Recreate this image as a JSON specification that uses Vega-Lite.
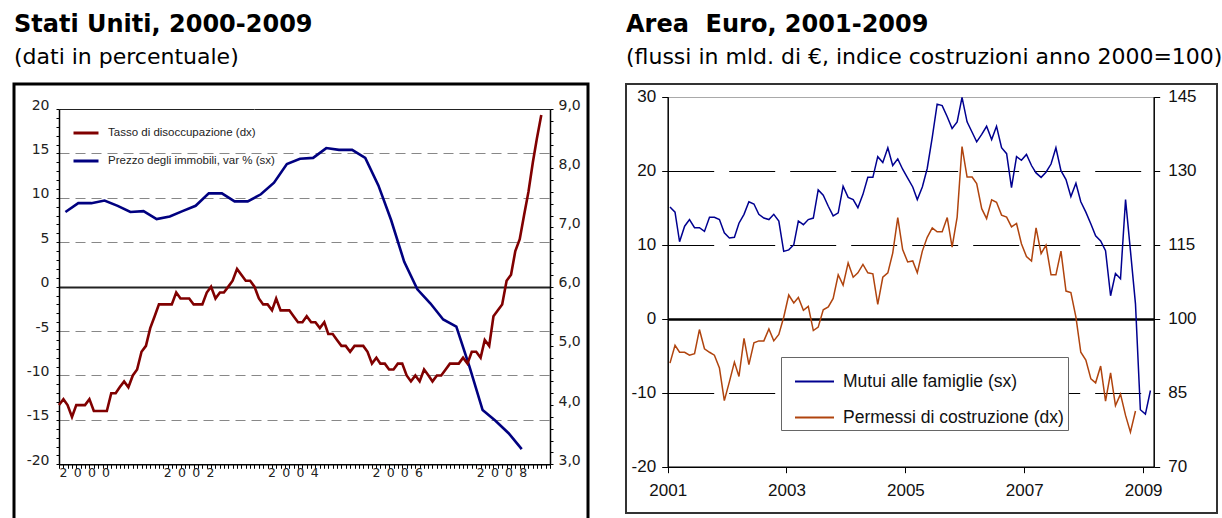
{
  "$schema": "https://vega.github.io/schema/vega-lite/v6.json",
  "padding": {"left": 12, "top": 11, "right": 0, "bottom": 0},
  "background": "white",
  "spacing": 35,
  "resolve": {"scale": {"color": "independent"}},
  "config": {
    "axis": {"title": null, "labelOverlap": false, "labelFlush": false},
    "legend": {"title": null}
  },
  "datasets": {
    "us_p": [
      {"d":"2000-02-15","v":8.4},{"d":"2000-05-15","v":9.4},{"d":"2000-08-15","v":9.4},{"d":"2000-11-15","v":9.7},
      {"d":"2001-02-15","v":9.1},{"d":"2001-05-15","v":8.4},{"d":"2001-08-15","v":8.5},{"d":"2001-11-15","v":7.6},
      {"d":"2002-02-15","v":7.9},{"d":"2002-05-15","v":8.5},{"d":"2002-08-15","v":9.1},{"d":"2002-11-15","v":10.5},
      {"d":"2003-02-15","v":10.5},{"d":"2003-05-15","v":9.6},{"d":"2003-08-15","v":9.6},{"d":"2003-11-15","v":10.4},
      {"d":"2004-02-15","v":11.7},{"d":"2004-05-15","v":13.8},{"d":"2004-08-15","v":14.4},{"d":"2004-11-15","v":14.5},
      {"d":"2005-02-15","v":15.6},{"d":"2005-05-15","v":15.4},{"d":"2005-08-15","v":15.4},{"d":"2005-11-15","v":14.5},
      {"d":"2006-02-15","v":11.4},{"d":"2006-05-15","v":7.5},{"d":"2006-08-15","v":2.8},{"d":"2006-11-15","v":-0.3},
      {"d":"2007-02-15","v":-1.9},{"d":"2007-05-15","v":-3.7},{"d":"2007-08-15","v":-4.5},{"d":"2007-11-15","v":-9.0},
      {"d":"2008-02-15","v":-13.9},{"d":"2008-05-15","v":-15.1},{"d":"2008-08-15","v":-16.5},{"d":"2008-11-15","v":-18.3}
    ],
    "us_u": [
      {"d":"2000-01-01","v":4.0},{"d":"2000-02-01","v":4.1},{"d":"2000-03-01","v":4.0},{"d":"2000-04-01","v":3.8},{"d":"2000-05-01","v":4.0},{"d":"2000-06-01","v":4.0},{"d":"2000-07-01","v":4.0},{"d":"2000-08-01","v":4.1},{"d":"2000-09-01","v":3.9},{"d":"2000-10-01","v":3.9},{"d":"2000-11-01","v":3.9},{"d":"2000-12-01","v":3.9},
      {"d":"2001-01-01","v":4.2},{"d":"2001-02-01","v":4.2},{"d":"2001-03-01","v":4.3},{"d":"2001-04-01","v":4.4},{"d":"2001-05-01","v":4.3},{"d":"2001-06-01","v":4.5},{"d":"2001-07-01","v":4.6},{"d":"2001-08-01","v":4.9},{"d":"2001-09-01","v":5.0},{"d":"2001-10-01","v":5.3},{"d":"2001-11-01","v":5.5},{"d":"2001-12-01","v":5.7},
      {"d":"2002-01-01","v":5.7},{"d":"2002-02-01","v":5.7},{"d":"2002-03-01","v":5.7},{"d":"2002-04-01","v":5.9},{"d":"2002-05-01","v":5.8},{"d":"2002-06-01","v":5.8},{"d":"2002-07-01","v":5.8},{"d":"2002-08-01","v":5.7},{"d":"2002-09-01","v":5.7},{"d":"2002-10-01","v":5.7},{"d":"2002-11-01","v":5.9},{"d":"2002-12-01","v":6.0},
      {"d":"2003-01-01","v":5.8},{"d":"2003-02-01","v":5.9},{"d":"2003-03-01","v":5.9},{"d":"2003-04-01","v":6.0},{"d":"2003-05-01","v":6.1},{"d":"2003-06-01","v":6.3},{"d":"2003-07-01","v":6.2},{"d":"2003-08-01","v":6.1},{"d":"2003-09-01","v":6.1},{"d":"2003-10-01","v":6.0},{"d":"2003-11-01","v":5.8},{"d":"2003-12-01","v":5.7},
      {"d":"2004-01-01","v":5.7},{"d":"2004-02-01","v":5.6},{"d":"2004-03-01","v":5.8},{"d":"2004-04-01","v":5.6},{"d":"2004-05-01","v":5.6},{"d":"2004-06-01","v":5.6},{"d":"2004-07-01","v":5.5},{"d":"2004-08-01","v":5.4},{"d":"2004-09-01","v":5.4},{"d":"2004-10-01","v":5.5},{"d":"2004-11-01","v":5.4},{"d":"2004-12-01","v":5.4},
      {"d":"2005-01-01","v":5.3},{"d":"2005-02-01","v":5.4},{"d":"2005-03-01","v":5.2},{"d":"2005-04-01","v":5.2},{"d":"2005-05-01","v":5.1},{"d":"2005-06-01","v":5.0},{"d":"2005-07-01","v":5.0},{"d":"2005-08-01","v":4.9},{"d":"2005-09-01","v":5.0},{"d":"2005-10-01","v":5.0},{"d":"2005-11-01","v":5.0},{"d":"2005-12-01","v":4.9},
      {"d":"2006-01-01","v":4.7},{"d":"2006-02-01","v":4.8},{"d":"2006-03-01","v":4.7},{"d":"2006-04-01","v":4.7},{"d":"2006-05-01","v":4.6},{"d":"2006-06-01","v":4.6},{"d":"2006-07-01","v":4.7},{"d":"2006-08-01","v":4.7},{"d":"2006-09-01","v":4.5},{"d":"2006-10-01","v":4.4},{"d":"2006-11-01","v":4.5},{"d":"2006-12-01","v":4.4},
      {"d":"2007-01-01","v":4.6},{"d":"2007-02-01","v":4.5},{"d":"2007-03-01","v":4.4},{"d":"2007-04-01","v":4.5},{"d":"2007-05-01","v":4.5},{"d":"2007-06-01","v":4.6},{"d":"2007-07-01","v":4.7},{"d":"2007-08-01","v":4.7},{"d":"2007-09-01","v":4.7},{"d":"2007-10-01","v":4.8},{"d":"2007-11-01","v":4.7},{"d":"2007-12-01","v":4.9},
      {"d":"2008-01-01","v":4.9},{"d":"2008-02-01","v":4.8},{"d":"2008-03-01","v":5.1},{"d":"2008-04-01","v":5.0},{"d":"2008-05-01","v":5.5},{"d":"2008-06-01","v":5.6},{"d":"2008-07-01","v":5.7},{"d":"2008-08-01","v":6.1},{"d":"2008-09-01","v":6.2},{"d":"2008-10-01","v":6.6},{"d":"2008-11-01","v":6.8},{"d":"2008-12-01","v":7.2},
      {"d":"2009-01-01","v":7.6},{"d":"2009-02-01","v":8.1},{"d":"2009-03-01","v":8.5},{"d":"2009-04-01","v":8.9}
    ],
    "ea": [
      {"d":"2001-01-15","m":15.1,"p":91.0},{"d":"2001-02-15","m":14.4,"p":94.6},{"d":"2001-03-15","m":10.4,"p":93.2},{"d":"2001-04-15","m":12.5,"p":93.2},{"d":"2001-05-15","m":13.4,"p":92.6},{"d":"2001-06-15","m":12.3,"p":92.9},{"d":"2001-07-15","m":12.3,"p":97.8},{"d":"2001-08-15","m":11.8,"p":93.9},{"d":"2001-09-15","m":13.7,"p":93.2},{"d":"2001-10-15","m":13.7,"p":92.6},{"d":"2001-11-15","m":13.4,"p":90.0},{"d":"2001-12-15","m":11.6,"p":83.4},
      {"d":"2002-01-15","m":10.9,"p":87.2},{"d":"2002-02-15","m":11.0,"p":91.2},{"d":"2002-03-15","m":12.9,"p":88.3},{"d":"2002-04-15","m":14.1,"p":96.0},{"d":"2002-05-15","m":15.8,"p":90.7},{"d":"2002-06-15","m":15.5,"p":95.1},{"d":"2002-07-15","m":14.1,"p":95.5},{"d":"2002-08-15","m":13.6,"p":95.5},{"d":"2002-09-15","m":13.4,"p":97.9},{"d":"2002-10-15","m":14.1,"p":95.5},{"d":"2002-11-15","m":13.2,"p":96.8},{"d":"2002-12-15","m":9.1,"p":100.3},
      {"d":"2003-01-15","m":9.3,"p":104.8},{"d":"2003-02-15","m":10.0,"p":103.2},{"d":"2003-03-15","m":13.2,"p":104.3},{"d":"2003-04-15","m":12.7,"p":101.7},{"d":"2003-05-15","m":13.4,"p":102.5},{"d":"2003-06-15","m":13.6,"p":97.6},{"d":"2003-07-15","m":17.4,"p":98.3},{"d":"2003-08-15","m":16.7,"p":101.8},{"d":"2003-09-15","m":15.2,"p":102.4},{"d":"2003-10-15","m":13.9,"p":104.1},{"d":"2003-11-15","m":14.3,"p":108.9},{"d":"2003-12-15","m":17.9,"p":106.8},
      {"d":"2004-01-15","m":16.4,"p":111.3},{"d":"2004-02-15","m":16.1,"p":108.4},{"d":"2004-03-15","m":15.0,"p":109.3},{"d":"2004-04-15","m":16.8,"p":111.0},{"d":"2004-05-15","m":19.1,"p":109.3},{"d":"2004-06-15","m":19.1,"p":109.1},{"d":"2004-07-15","m":21.9,"p":102.9},{"d":"2004-08-15","m":21.1,"p":108.4},{"d":"2004-09-15","m":23.1,"p":109.3},{"d":"2004-10-15","m":20.7,"p":113.3},{"d":"2004-11-15","m":21.6,"p":120.5},{"d":"2004-12-15","m":20.2,"p":114.0},
      {"d":"2005-01-15","m":19.0,"p":111.5},{"d":"2005-02-15","m":17.8,"p":111.7},{"d":"2005-03-15","m":16.1,"p":109.3},{"d":"2005-04-15","m":17.8,"p":113.7},{"d":"2005-05-15","m":20.3,"p":116.5},{"d":"2005-06-15","m":24.5,"p":118.4},{"d":"2005-07-15","m":29.0,"p":117.6},{"d":"2005-08-15","m":28.8,"p":117.6},{"d":"2005-09-15","m":27.3,"p":120.5},{"d":"2005-10-15","m":25.7,"p":114.5},{"d":"2005-11-15","m":26.6,"p":120.6},{"d":"2005-12-15","m":29.9,"p":134.9},
      {"d":"2006-01-15","m":26.6,"p":128.7},{"d":"2006-02-15","m":25.2,"p":128.7},{"d":"2006-03-15","m":23.9,"p":127.4},{"d":"2006-04-15","m":24.9,"p":122.3},{"d":"2006-05-15","m":26.0,"p":120.3},{"d":"2006-06-15","m":24.2,"p":124.1},{"d":"2006-07-15","m":26.0,"p":123.6},{"d":"2006-08-15","m":23.1,"p":121.0},{"d":"2006-09-15","m":22.3,"p":120.6},{"d":"2006-10-15","m":17.7,"p":118.6},{"d":"2006-11-15","m":21.9,"p":119.3},{"d":"2006-12-15","m":21.4,"p":115.2},
      {"d":"2007-01-15","m":22.2,"p":112.6},{"d":"2007-02-15","m":20.7,"p":111.7},{"d":"2007-03-15","m":19.7,"p":118.4},{"d":"2007-04-15","m":19.1,"p":113.2},{"d":"2007-05-15","m":19.8,"p":114.9},{"d":"2007-06-15","m":20.9,"p":108.9},{"d":"2007-07-15","m":23.1,"p":108.9},{"d":"2007-08-15","m":20.0,"p":113.7},{"d":"2007-09-15","m":18.8,"p":105.6},{"d":"2007-10-15","m":16.5,"p":105.3},{"d":"2007-11-15","m":18.3,"p":100.3},{"d":"2007-12-15","m":15.8,"p":93.2},
      {"d":"2008-01-15","m":14.4,"p":91.6},{"d":"2008-02-15","m":12.8,"p":87.8},{"d":"2008-03-15","m":11.2,"p":87.0},{"d":"2008-04-15","m":10.5,"p":90.4},{"d":"2008-05-15","m":9.2,"p":83.3},{"d":"2008-06-15","m":3.1,"p":89.0},{"d":"2008-07-15","m":6.1,"p":82.4},{"d":"2008-08-15","m":5.4,"p":84.7},{"d":"2008-09-15","m":16.1,"p":80.4},{"d":"2008-10-15","m":9.2,"p":77.0},{"d":"2008-11-15","m":2.0,"p":81.3},{"d":"2008-12-15","m":-12.3},
      {"d":"2009-01-15","m":-12.9},{"d":"2009-02-15","m":-9.7}
    ]
  },
  "hconcat": [
    {
      "width": 574,
      "height": 450,
      "view": {"stroke": "#000", "strokeWidth": 3, "fill": "white"},
      "title": {
        "text": "Stati Uniti, 2000-2009",
        "subtitle": "(dati in percentuale)",
        "anchor": "start", "frame": "group",
        "font": "DejaVu Sans", "fontSize": 24, "fontWeight": "bold", "color": "#000",
        "subtitleFont": "DejaVu Sans", "subtitleFontSize": 22, "subtitleColor": "#000",
        "subtitlePadding": 10, "offset": 16
      },
      "layer": [
        {
          "data": {"name": "us_p"},
          "mark": {"type": "line", "strokeWidth": 2.6},
          "encoding": {
            "x": {
              "field": "d", "type": "temporal",
              "scale": {"domain": [{"year": 2000, "month": 1, "date": 1}, {"year": 2009, "month": 6, "date": 1}], "range": [45, 536], "nice": false},
              "axis": {
                "orient": "bottom", "offset": -69.7,
                "tickCount": {"interval": "month", "step": 1},
                "labelExpr": "month(datum.value) == 0 && year(datum.value) % 2 == 0 ? join(split(timeFormat(datum.value, '%Y'), ''), '\u2002') : ''",
                "labelAlign": "left", "labelBaseline": "top", "labelPadding": -2, "labelOverlap": false,
                "tickSize": 4, "tickColor": "#000", "tickWidth": 1,
                "domainColor": "#000", "domainWidth": 1.5, "grid": false,
                "labelFont": "DejaVu Sans", "labelFontSize": 12.5, "labelColor": "#222"
              }
            },
            "y": {
              "field": "v", "type": "quantitative",
              "scale": {"domain": [-20, 20], "range": [380.3, 25], "nice": false, "zero": false},
              "axis": {
                "orient": "left", "offset": -45,
                "values": [-20,-19,-18,-17,-16,-15,-14,-13,-12,-11,-10,-9,-8,-7,-6,-5,-4,-3,-2,-1,0,1,2,3,4,5,6,7,8,9,10,11,12,13,14,15,16,17,18,19,20],
                "labelExpr": "indexof([-20,-15,-10,-5,0,5,10,15,20], datum.value) >= 0 ? '' + datum.value : ''",
                "labelBaseline": "alphabetic", "labelPadding": 7, "labelOverlap": false,
                "tickSize": 3, "tickColor": "#000", "domainColor": "#000", "domainWidth": 1.5,
                "grid": true,
                "gridColor": {"condition": {"test": "abs(datum.value) === 20 || datum.value === 0", "value": "#222"}, "value": "#888"},
                "gridDash": {"condition": {"test": "abs(datum.value) === 20 || datum.value === 0", "value": [1, 0]}, "value": [10, 6]},
                "gridWidth": {"condition": {"test": "datum.value === 0", "value": 2}, "value": 1.2},
                "gridOpacity": {"condition": {"test": "indexof([-15,-10,-5,0,5,10,15,20], datum.value) >= 0", "value": 1}, "value": 0},
                "labelFont": "DejaVu Sans", "labelFontSize": 14, "labelColor": "#222"
              }
            },
            "color": {
              "datum": "Prezzo degli immobili, var % (sx)",
              "scale": {"domain": ["Tasso di disoccupazione (dx)", "Prezzo degli immobili, var % (sx)"], "range": ["#800000", "#000080"]},
              "legend": {
                "orient": "none", "legendX": 58, "legendY": 35,
                "symbolType": "stroke", "symbolSize": 625, "symbolStrokeWidth": 3,
                "labelFont": "Liberation Sans", "labelFontSize": 11.5, "labelColor": "#222",
                "labelOffset": 8, "rowPadding": 8, "padding": 0, "labelLimit": 400
              }
            }
          }
        },
        {
          "data": {"name": "us_u"},
          "mark": {"type": "line", "strokeWidth": 2.6},
          "encoding": {
            "x": {"field": "d", "type": "temporal"},
            "y": {
              "field": "v", "type": "quantitative",
              "scale": {"domain": [3, 9], "range": [380.3, 25], "nice": false, "zero": false},
              "axis": {
                "orient": "right", "offset": -38,
                "values": [3,3.2,3.4,3.6,3.8,4,4.2,4.4,4.6,4.8,5,5.2,5.4,5.6,5.8,6,6.2,6.4,6.6,6.8,7,7.2,7.4,7.6,7.8,8,8.2,8.4,8.6,8.8,9],
                "labelExpr": "abs(datum.value - round(datum.value)) < 0.001 ? replace(format(datum.value, '.1f'), '.', ',') : ''",
                "labelBaseline": "alphabetic", "labelPadding": 5, "labelOverlap": false,
                "tickSize": 3, "tickColor": "#000", "domainColor": "#000", "domainWidth": 1.5,
                "grid": false,
                "labelFont": "DejaVu Sans", "labelFontSize": 14, "labelColor": "#222"
              }
            },
            "color": {"datum": "Tasso di disoccupazione (dx)"}
          }
        }
      ],
      "resolve": {"scale": {"y": "independent"}}
    },
    {
      "width": 591,
      "height": 429,
      "view": {"stroke": "#333", "strokeWidth": 2, "fill": "white"},
      "title": {
        "text": "Area\u00a0 Euro, 2001-2009",
        "subtitle": "(flussi in mld. di €, indice costruzioni anno 2000=100)",
        "anchor": "start", "frame": "group",
        "font": "DejaVu Sans", "fontSize": 24, "fontWeight": "bold", "color": "#000",
        "subtitleFont": "DejaVu Sans", "subtitleFontSize": 22, "subtitleColor": "#000",
        "subtitlePadding": 10, "offset": 16
      },
      "data": {"name": "ea"},
      "layer": [
        {
          "mark": {"type": "line", "strokeWidth": 1.5},
          "encoding": {
            "x": {
              "field": "d", "type": "temporal",
              "scale": {"domain": [{"year": 2001, "month": 1, "date": 1}, {"year": 2009, "month": 3, "date": 7}], "range": [41.7, 527.7], "nice": false},
              "axis": {
                "orient": "bottom", "offset": -46.3,
                "values": [{"year": 2001, "month": 1, "date": 1}, {"year": 2003, "month": 1, "date": 1}, {"year": 2005, "month": 1, "date": 1}, {"year": 2007, "month": 1, "date": 1}, {"year": 2009, "month": 1, "date": 1}],
                "format": "%Y", "labelOverlap": false,
                "labelFont": "Liberation Sans", "labelFontSize": 17, "labelColor": "#111", "labelPadding": 10,
                "tickSize": 6, "tickColor": "#000", "domainColor": "#000", "domainWidth": 1.5, "grid": false
              }
            },
            "y": {
              "field": "m", "type": "quantitative",
              "scale": {"domain": [-20, 30], "range": [382.7, 12.7], "nice": false, "zero": false},
              "axis": {
                "orient": "left", "offset": -41.7,
                "values": [-20, -10, 0, 10, 20, 30],
                "labelExpr": "'' + datum.value", "labelOverlap": false,
                "labelFont": "Liberation Sans", "labelFontSize": 17, "labelColor": "#111", "labelPadding": 6,
                "tickSize": 6, "tickColor": "#000", "domainColor": "#000", "domainWidth": 1.5,
                "grid": true,
                "gridColor": {"condition": {"test": "datum.value === 30", "value": "#999"}, "value": "#000"},
                "gridDash": {"condition": {"test": "datum.value === 30 || datum.value === 0", "value": [1, 0]}, "value": [46, 15]},
                "gridWidth": {"condition": {"test": "datum.value === 0", "value": 2.5}, "value": 1},
                "gridOpacity": {"condition": {"test": "datum.value === -20", "value": 0}, "value": 1}
              }
            },
            "color": {
              "datum": "Mutui alle famiglie (sx)",
              "scale": {"domain": ["Mutui alle famiglie (sx)", "Permessi di costruzione (dx)"], "range": ["#000090", "#B0440E"]},
              "legend": {
                "orient": "none", "legendX": 155, "legendY": 273,
                "symbolType": "stroke", "symbolSize": 1521, "symbolStrokeWidth": 2,
                "symbolOffset": 9,
                "labelFont": "Liberation Sans", "labelFontSize": 17.5, "labelColor": "#111",
                "labelOffset": 8, "padding": 4, "rowPadding": 7,
                "strokeColor": "#666", "fillColor": "white", "labelLimit": 400
              }
            }
          }
        },
        {
          "mark": {"type": "line", "strokeWidth": 1.5},
          "encoding": {
            "x": {"field": "d", "type": "temporal"},
            "y": {
              "field": "p", "type": "quantitative",
              "scale": {"domain": [70, 145], "range": [382.7, 12.7], "nice": false, "zero": false},
              "axis": {
                "orient": "right", "offset": -63.3,
                "values": [70, 85, 100, 115, 130, 145], "labelOverlap": false,
                "labelFont": "Liberation Sans", "labelFontSize": 17, "labelColor": "#111", "labelPadding": 8,
                "tickSize": 6, "tickColor": "#000", "domainColor": "#000", "domainWidth": 1.5, "grid": false
              }
            },
            "color": {"datum": "Permessi di costruzione (dx)"}
          }
        }
      ],
      "resolve": {"scale": {"y": "independent"}}
    }
  ]
}
